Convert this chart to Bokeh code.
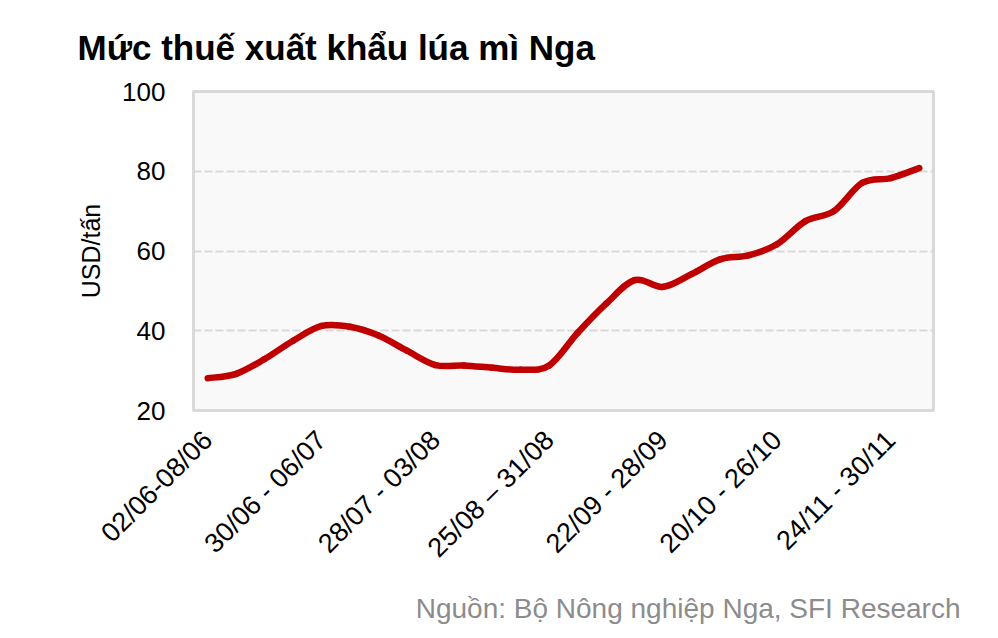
from bokeh.plotting import figure
from bokeh.models import Range1d, FixedTicker, Title
from bokeh.embed import file_html
from bokeh.resources import INLINE

# ---- data ----
week_index = list(range(26))
tax_usd_per_ton = [28.1, 29.2, 32.9, 37.5, 41.2, 41.0, 38.8, 35.0, 31.4, 31.3,
                   30.7, 30.2, 31.3, 39.5, 46.8, 52.7, 51.0, 54.2, 57.9, 58.9,
                   61.7, 67.5, 70.0, 77.1, 78.3, 80.8]
tick_positions = [0, 4, 8, 12, 16, 20, 24]
tick_labels = ["02/06-08/06", "30/06 - 06/07", "28/07 - 03/08", "25/08 \u2013 31/08",
               "22/09 - 28/09", "20/10 - 26/10", "24/11 - 30/11"]
y_ticks = [20, 40, 60, 80, 100]

title_text = "M\u1ee9c thu\u1ebf xu\u1ea5t kh\u1ea9u l\u00faa m\u00ec Nga"
source_text = "Ngu\u1ed3n: B\u1ed9 N\u00f4ng nghi\u1ec7p Nga, SFI Research"
y_label = "USD/t\u1ea5n"

FONT = "Liberation Sans"

p = figure(width=998, height=638, output_backend="svg", toolbar_location=None,
           x_range=Range1d(-0.5, 25.5), y_range=Range1d(20, 100))
p.min_border_left = 193
p.min_border_right = 65
p.min_border_top = 90
p.min_border_bottom = 228

p.title.text = title_text
p.title.text_font = FONT
p.title.text_font_size = "35px"
p.title.text_font_style = "bold"
p.title.text_color = "black"
p.title.align = "left"
p.title.offset = -116
p.title.standoff = 50

p.background_fill_color = "#f9f9f9"
p.border_fill_color = "white"
p.outline_line_color = "#d9d9d9"
p.outline_line_width = 3

p.xgrid.grid_line_color = None
p.ygrid.grid_line_color = "#d9d9d9"
p.ygrid.grid_line_width = 2
p.ygrid.grid_line_dash = "8 3"
p.ygrid.ticker = FixedTicker(ticks=[40, 60, 80])

# y axis
p.yaxis.ticker = FixedTicker(ticks=y_ticks)
p.yaxis.axis_line_color = None
p.yaxis.major_tick_line_color = None
p.yaxis.minor_tick_line_color = None
p.yaxis.major_label_text_font = FONT
p.yaxis.major_label_text_font_size = "26px"
p.yaxis.major_label_text_color = "black"
p.yaxis.major_label_standoff = 22
p.yaxis.axis_label = y_label
p.yaxis.axis_label_text_font = FONT
p.yaxis.axis_label_text_font_size = "25px"
p.yaxis.axis_label_text_font_style = "normal"
p.yaxis.axis_label_text_color = "black"
p.yaxis.axis_label_standoff = 14

# x axis
p.xaxis.ticker = FixedTicker(ticks=tick_positions)
p.xaxis.major_label_overrides = {pos: lab for pos, lab in zip(tick_positions, tick_labels)}
p.xaxis.major_label_orientation = 0.785398
p.xaxis.axis_line_color = None
p.xaxis.major_tick_line_color = None
p.xaxis.minor_tick_line_color = None
p.xaxis.major_label_text_font = FONT
p.xaxis.major_label_text_font_size = "27px"
p.xaxis.major_label_text_color = "black"
p.xaxis.major_label_standoff = 19

# smoothed line (Catmull-Rom style bezier segments through the data points)
n = len(week_index)
x0, y0, x1, y1, cx0, cy0, cx1, cy1 = [], [], [], [], [], [], [], []
for i in range(n - 1):
    xa, ya = week_index[i], tax_usd_per_ton[i]
    xb, yb = week_index[i + 1], tax_usd_per_ton[i + 1]
    xp, yp = (week_index[i - 1], tax_usd_per_ton[i - 1]) if i > 0 else (xa, ya)
    xn, yn = (week_index[i + 2], tax_usd_per_ton[i + 2]) if i + 2 < n else (xb, yb)
    x0.append(xa); y0.append(ya); x1.append(xb); y1.append(yb)
    cx0.append(xa + (xb - xp) / 6.0); cy0.append(ya + (yb - yp) / 6.0)
    cx1.append(xb - (xn - xa) / 6.0); cy1.append(yb - (yn - ya) / 6.0)

p.bezier(x0=x0, y0=y0, x1=x1, y1=y1, cx0=cx0, cy0=cy0, cx1=cx1, cy1=cy1,
         line_color="#c00000", line_width=6.5, line_cap="round")

src = Title(text=source_text, align="right", text_font=FONT, text_font_size="28px",
            text_font_style="normal", text_color="#8c8c8c", offset=-27, standoff=29)
p.add_layout(src, "below")

open("out.html", "w").write(file_html(p, INLINE))
